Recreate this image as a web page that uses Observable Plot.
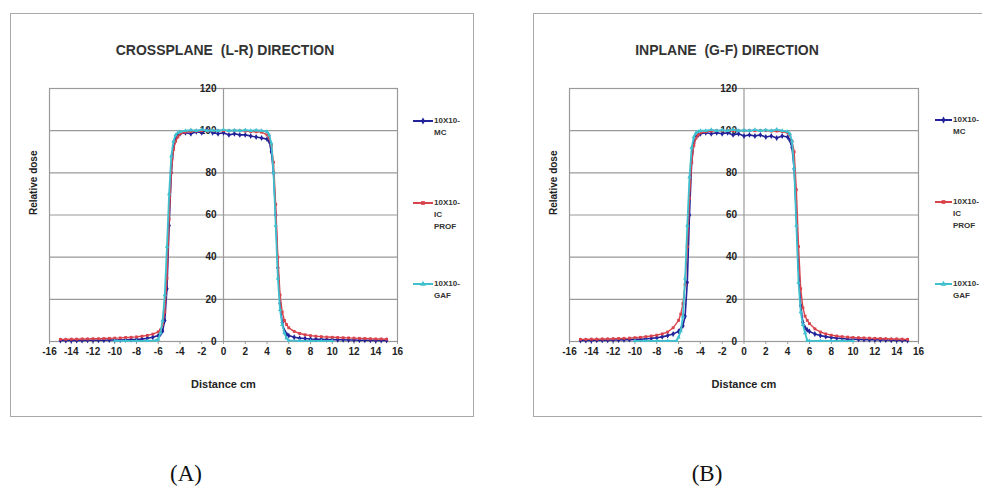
<!DOCTYPE html>
<html>
<head>
<meta charset="utf-8">
<script src="https://cdn.jsdelivr.net/npm/d3@7"></script>
<script src="https://cdn.jsdelivr.net/npm/@observablehq/plot@0.6"></script>
<style>
  html, body { margin: 0; padding: 0; background: #fff; }
  #root { position: relative; width: 982px; height: 495px; overflow: hidden; background: #fff;
          font-family: "Liberation Sans", Arial, sans-serif; color: #222; }
  .box { position: absolute; border: 1.5px solid #aaa; box-sizing: border-box; }
  .plot { position: absolute; }
  .title { position: absolute; font-weight: bold; font-size: 14px; color: #333; transform: translate(-50%, -50%); white-space: pre; }
  .cap { position: absolute; font-family: "Liberation Serif", "DejaVu Serif", serif; font-size: 23px; color: #111; transform: translate(-50%, -50%); }
  .leg { position: absolute; font-size: 8px; font-weight: bold; color: #333; line-height: 12px; display: flex; align-items: flex-start; }
  .leg svg { margin-top: 2px; margin-right: 1px; }
</style>
</head>
<body>
<div id="root"></div>
<script>
// ---------- data ----------
const xTicks = [-16,-14,-12,-10,-8,-6,-4,-2,0,2,4,6,8,10,12,14,16];
const yTicks = [0,20,40,60,80,100,120];

const seriesNames = ["10X10-\nMC", "10X10-\nIC\nPROF", "10X10-\nGAF"];
const seriesColors = ["#22229a", "#d9434c", "#3fc0cf"];

// common x grid (cm) for MC and IC PROF
const xs = [-15,-14.5,-14,-13.5,-13,-12.5,-12,-11.5,-11,-10.5,-10,-9.5,-9,-8.5,-8,-7.5,-7,-6.5,-6,
  -5.8,-5.6,-5.4,-5.2,-5.0,-4.8,-4.6,-4.4,-4.2,-4,
  -3.5,-3,-2.5,-2,-1.5,-1,-0.5,0,0.5,1,1.5,2,2.5,3,3.5,
  4,4.2,4.4,4.6,4.8,5.0,5.2,5.4,5.6,5.8,
  6,6.5,7,7.5,8,8.5,9,9.5,10,10.5,11,11.5,12,12.5,13,13.5,14,14.5,15];

// x grid for GAF
const gafX = [-10,-9,-8,-7,-6.2,-6,-5.8,-5.6,-5.4,-5.2,-5.0,-4.8,-4.6,-4.4,-4.2,-4,
  -3.5,-3,-2.5,-2,-1.5,-1,-0.5,0,0.5,1,1.5,2,2.5,3,3.5,
  4,4.2,4.4,4.6,4.8,5.0,5.2,5.4,5.6,5.8,6,7,8,9,10];

// (A) crossplane
const crossMC = [0.5,0.5,0.5,0.5,0.5,0.6,0.6,0.6,0.6,0.7,0.7,0.7,0.8,0.9,1.0,1.2,1.5,2.0,2.8,
  3.5,5,10,25,55,80,92,96,98,98.5,
  99,98.5,99.5,99,100.5,99,98.5,99,98,98.5,98,98,97.5,97,96.5,
  96,95,90,80,60,35,18,9,5,3.5,
  2.8,2.0,1.6,1.4,1.2,1.1,1.0,0.9,0.9,0.8,0.8,0.7,0.7,0.6,0.6,0.6,0.5,0.5,0.5];
const crossIC = [1.0,1.0,1.1,1.1,1.2,1.2,1.3,1.3,1.4,1.5,1.6,1.7,1.9,2.0,2.2,2.5,2.9,3.5,4.6,
  5.5,8,14,30,58,80,91,95,97,98.5,
  99.3,99.6,99.8,100,100,100,100,100,100,100,100,99.8,99.6,99.5,99.3,
  98,96.5,93,85,65,40,22,14,10,8,
  6.5,4.8,3.8,3.2,2.8,2.5,2.3,2.1,2.0,1.9,1.8,1.7,1.6,1.5,1.4,1.3,1.2,1.2,1.1];
const crossGAF = [0.3,0.3,0.3,0.3,0.5,1,4,10,22,45,70,88,95,98,99,99.5,
  100,100.3,100,100.5,100,100.2,100,100.4,100,100.2,100,100.3,100,100.2,100,
  99.5,98,94,80,55,30,15,8,4,1.5,0.5,0.3,0.3,0.3,0.3];

// (B) inplane
const inMC = [0.5,0.5,0.5,0.6,0.6,0.6,0.7,0.7,0.8,0.9,1.0,1.1,1.3,1.5,1.8,2.2,2.8,3.6,4.8,
  5.8,7.5,12,28,60,85,94,97,98,98.5,
  99,98.5,99,98.5,99,98,98.5,97.5,98,97.5,98,97,97.5,96.5,97.5,
  97,95.5,92,82,60,35,17,9,6.5,5.5,
  4.8,3.6,2.8,2.3,1.9,1.6,1.4,1.2,1.1,1.0,0.9,0.8,0.8,0.7,0.7,0.6,0.6,0.5,0.5];
const inIC = [1.0,1.0,1.1,1.1,1.2,1.2,1.3,1.4,1.5,1.6,1.8,2.0,2.3,2.6,3.0,3.6,4.5,6.5,10,
  13,18,27,45,68,85,93,96.5,98,99,
  99.5,99.8,100,100,100,100,100,100,100,100,100,100,99.8,99.8,99.6,
  99,98,95,90,72,45,25,16,12,10,
  8.5,6,4.5,3.6,3.0,2.6,2.3,2.1,1.9,1.8,1.7,1.6,1.5,1.4,1.3,1.2,1.2,1.1,1.0];
const inGAF = [0.3,0.3,0.3,0.3,0.3,2,5,12,30,55,78,92,97,99,99.5,100,
  100,100.4,100,100.3,100,100.5,100,100.2,100,100.4,100,100.3,100,100.5,100,
  99.5,98.5,95,82,55,28,14,8,4,0.5,0.3,0.3,0.3,0.3,0.3];

// ---------- drawing ----------
const root = document.getElementById("root");

function rows(xArr, yArr) { return xArr.map((x, i) => ({x, y: yArr[i]})); }

function makePanel({left, top, boxW, boxH, mL, mR, mT, mB, mc, ic, gaf}) {
  const sMC = rows(xs, mc), sIC = rows(xs, ic), sGAF = rows(gafX, gaf);
  const [cMC, cIC, cGAF] = seriesColors;
  const chart = Plot.plot({
    width: boxW, height: boxH,
    marginLeft: mL, marginRight: mR, marginTop: mT, marginBottom: mB,
    x: {domain: [-16, 16], label: null},
    y: {domain: [0, 120], axis: null},
    style: {fontFamily: '"Liberation Sans", Arial, sans-serif', fontSize: "10px", fontWeight: "bold", color: "#222", background: "transparent", overflow: "visible"},
    marks: [
      Plot.gridY(yTicks, {stroke: "#9a9a9a", strokeOpacity: 1, strokeWidth: 1.2}),
      Plot.frame({stroke: "#9a9a9a", strokeWidth: 1.2}),
      Plot.ruleX([0], {stroke: "#9a9a9a", strokeWidth: 1.2}),
      Plot.text(yTicks, {x: 0, y: d => d, dx: -7, textAnchor: "end", fontSize: 10, fontWeight: "bold", fill: "#222"}),
      Plot.axisX(xTicks, {tickSize: 3, tickPadding: 3, tickFormat: d => String(d), label: null, stroke: "#9a9a9a", fontWeight: "bold", fill: "#222"}),
      Plot.line(sMC, {x: "x", y: "y", stroke: cMC, strokeWidth: 1.6}),
      Plot.dot(sMC, {x: "x", y: "y", fill: cMC, r: 1.8, symbol: "diamond"}),
      Plot.line(sIC, {x: "x", y: "y", stroke: cIC, strokeWidth: 1.4}),
      Plot.dot(sIC, {x: "x", y: "y", fill: cIC, r: 1.6, symbol: "square"}),
      Plot.line(sGAF, {x: "x", y: "y", stroke: cGAF, strokeWidth: 1.8}),
      Plot.dot(sGAF, {x: "x", y: "y", fill: cGAF, r: 1.6, symbol: "triangle"}),
      Plot.text(["Relative dose"], {frameAnchor: "left", rotate: -90, dx: -16, fontSize: 10, fontWeight: "bold", fill: "#222"}),
      Plot.text(["Distance cm"], {frameAnchor: "bottom", dy: 46, fontSize: 11, fontWeight: "bold", fill: "#222"})
    ]
  });
  chart.classList.add("plot");
  chart.style.left = left + "px";
  chart.style.top = top + "px";
  return chart;
}

function addBox(left, top, w, h) {
  const d = document.createElement("div");
  d.className = "box";
  Object.assign(d.style, {left: left + "px", top: top + "px", width: w + "px", height: h + "px"});
  root.appendChild(d);
}
function addText(cls, txt, cx, cy) {
  const d = document.createElement("div");
  d.className = cls;
  d.textContent = txt;
  Object.assign(d.style, {left: cx + "px", top: cy + "px"});
  root.appendChild(d);
}
function addLegend(x, ys, lineW) {
  const markers = [d3.symbolDiamond, d3.symbolSquare, d3.symbolTriangle];
  seriesNames.forEach((name, i) => {
    const d = document.createElement("div");
    d.className = "leg";
    d.style.left = x + "px";
    d.style.top = (ys[i] - 6) + "px";
    const sym = d3.symbol().type(markers[i]).size(14)();
    d.innerHTML = `<svg width="${lineW}" height="8"><line x1="0" x2="${lineW}" y1="4" y2="4" stroke="${seriesColors[i]}" stroke-width="2"/><path d="${sym}" transform="translate(${lineW / 2},4)" fill="${seriesColors[i]}"/></svg><span style="white-space:pre">${name}</span>`;
    root.appendChild(d);
  });
}

// panel A
addBox(10, 13, 464, 404);
root.appendChild(makePanel({left: 10, top: 13, boxW: 464, boxH: 404, mL: 39, mR: 77, mT: 75, mB: 76,
  mc: crossMC, ic: crossIC, gaf: crossGAF}));
addText("title", "CROSSPLANE  (L-R) DIRECTION", 225, 50);
addLegend(413, [121, 203, 284], 20);

// panel B
addBox(533, 13, 480, 404);
root.appendChild(makePanel({left: 533, top: 13, boxW: 464, boxH: 404, mL: 36, mR: 79, mT: 75, mB: 76,
  mc: inMC, ic: inIC, gaf: inGAF}));
addText("title", "INPLANE  (G-F) DIRECTION", 727, 50);
addLegend(935, [120, 202, 284], 17);

addText("cap", "(A)", 186, 474);
addText("cap", "(B)", 707, 474);
</script>
</body>
</html>
